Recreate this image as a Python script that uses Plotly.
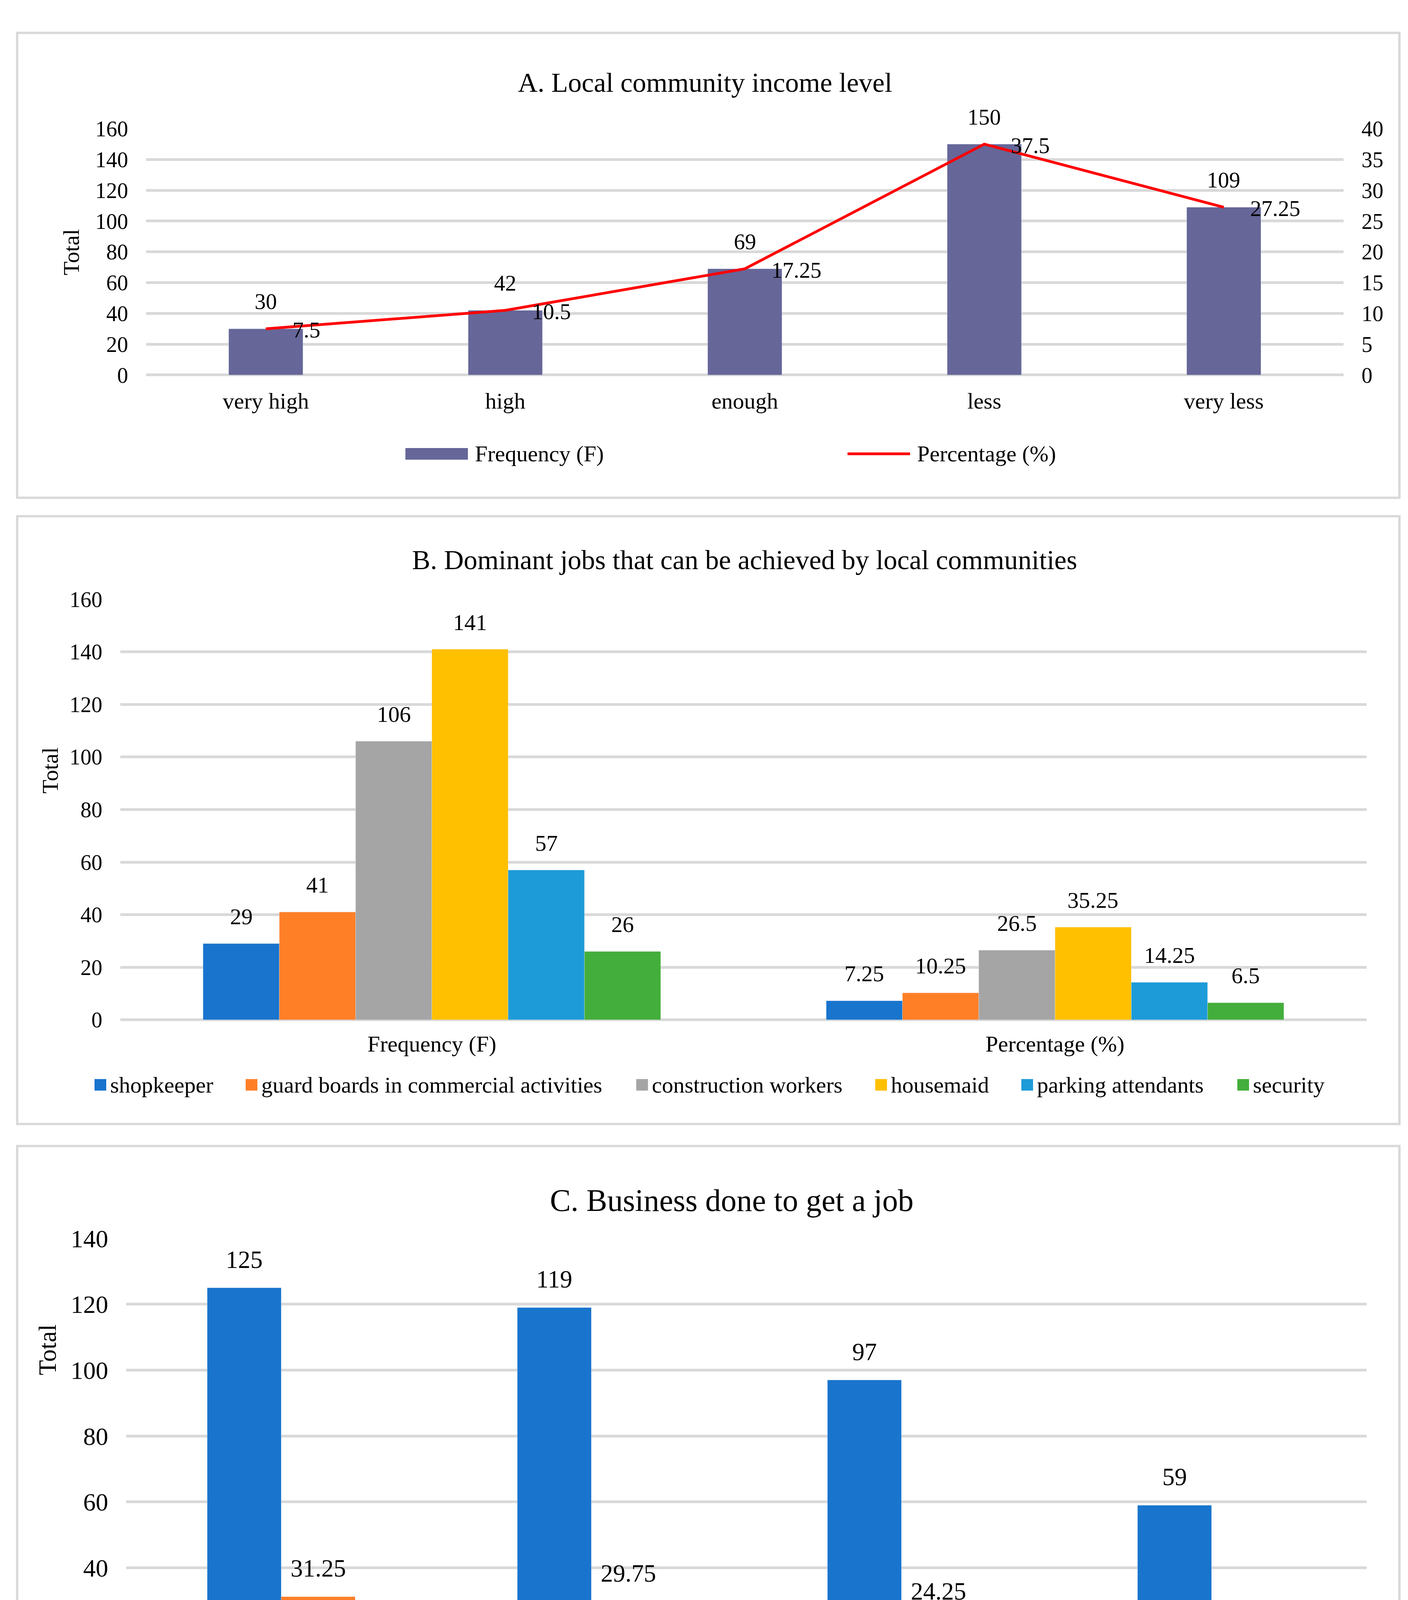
import plotly.graph_objects as go

W, H = 3605, 4709

# ---- data ----
income_levels = ["very high", "high", "enough", "less", "very less"]
income_freq = [30, 42, 69, 150, 109]
income_pct = [7.5, 10.5, 17.25, 37.5, 27.25]

job_groups = ["Frequency (F)", "Percentage (%)"]
jobs = ["shopkeeper", "guard boards in commercial activities", "construction workers",
        "housemaid", "parking attendants", "security"]
job_freq = [29, 41, 106, 141, 57, 26]
job_pct = [7.25, 10.25, 26.5, 35.25, 14.25, 6.5]

business = ["take courses and training", "following Formal Education",
            "improve Skills and Expertise", "etc"]
business_freq = [125, 119, 97, 59]
business_pct = [31.25, 29.75, 24.25, 14.75]

FONT = "Liberation Serif"
GRID = "#D9D9D9"
job_colors = ["#1874CD", "#FF7F27", "#A5A5A5", "#FFC000", "#1D9BD8", "#43AE3B"]
c_colors = ["#1874CD", "#FF7F27"]


def px(x):
    return x / W


def py(y):
    return 1 - y / H


def note(x, y, text, size, xanchor="center", angle=0):
    return dict(x=px(x), y=py(y), xref="paper", yref="paper", showarrow=False, text=text,
                xanchor=xanchor, yanchor="middle", textangle=angle, font=dict(size=size))


fig = go.Figure()

# ---- A. income level ----
fig.add_trace(go.Bar(x=income_levels, y=income_freq, name="Frequency (F)",
                     marker_color="#666699", width=0.31, xaxis="x", yaxis="y"))
fig.add_trace(go.Scatter(x=income_levels, y=income_pct, name="Percentage (%)", mode="lines",
                         line=dict(color="#FF0000", width=7), xaxis="x", yaxis="y4"))

# ---- B. dominant jobs ----
wb = 0.1224
for i, job in enumerate(jobs):
    fig.add_trace(go.Bar(x=job_groups, y=[job_freq[i], job_pct[i]], name=job,
                         marker_color=job_colors[i], width=wb, offset=-3 * wb + i * wb,
                         xaxis="x2", yaxis="y2"))

# ---- C. business done ----
wc = 0.2386
fig.add_trace(go.Bar(x=business, y=business_freq, name="Frequency (F)", marker_color=c_colors[0],
                     width=wc, offset=-wc, xaxis="x3", yaxis="y3"))
fig.add_trace(go.Bar(x=business, y=business_pct, name="Percentage (%)", marker_color=c_colors[1],
                     width=wc, offset=0, xaxis="x3", yaxis="y3"))

ann = []
# data labels A
for c, v in zip(income_levels, income_freq):
    ann.append(dict(x=c, y=v, xref="x", yref="y", text=f"{v:g}", showarrow=False,
                    yanchor="middle", yshift=70, font=dict(size=57)))
for c, v in zip(income_levels, income_pct):
    ann.append(dict(x=c, y=v, xref="x", yref="y4", text=f"{v:g}", showarrow=False,
                    xanchor="left", yanchor="middle", xshift=66, yshift=-3, font=dict(size=57)))
# data labels B
for i in range(len(jobs)):
    for g, v in enumerate([job_freq[i], job_pct[i]]):
        ann.append(dict(x=g - 3 * wb + i * wb + wb / 2, y=v, xref="x2", yref="y2", text=f"{v:g}",
                        showarrow=False, yanchor="middle", yshift=69, font=dict(size=58)))
# data labels C
for k, vals in enumerate([business_freq, business_pct]):
    for g, v in enumerate(vals):
        ann.append(dict(x=g - wc + k * wc + wc / 2, y=v, xref="x3", yref="y3", text=f"{v:g}",
                        showarrow=False, yanchor="middle", yshift=72, font=dict(size=63)))

# titles
ann.append(note(1797, 171, "A. Local community income level", 70))
ann.append(note(1898, 1412, "B. Dominant jobs that can be achieved by local communities", 70))
ann.append(note(1865, 3076, "C. Business done to get a job", 80))
# y-axis titles
for (xx, yy, fs) in [(175, 612, 58), (120, 1959, 58), (114, 3464, 64)]:
    ann.append(note(xx, yy, "Total", fs, angle=-90))

shapes = []
# panel borders
for (y0, y1) in [(42, 1250), (1298, 2878), (2935, 4671)]:
    shapes.append(dict(type="rect", xref="paper", yref="paper", x0=px(36), x1=px(3575),
                       y0=py(y0), y1=py(y1), line=dict(color=GRID, width=6)))

# legend A
shapes.append(dict(type="rect", xref="paper", yref="paper", x0=px(1030), x1=px(1190),
                   y0=py(1121), y1=py(1151), fillcolor="#666699", line=dict(width=0)))
shapes.append(dict(type="line", xref="paper", yref="paper", x0=px(2162), x1=px(2322),
                   y0=py(1136), y1=py(1136), line=dict(color="#FF0000", width=7)))
ann.append(note(1206, 1136, "Frequency (F)", 58, "left"))
ann.append(note(2338, 1136, "Percentage (%)", 58, "left"))

# legend B
b_sq = [234, 621, 1621, 2233, 2607, 3160]
for i, job in enumerate(jobs):
    shapes.append(dict(type="rect", xref="paper", yref="paper", x0=px(b_sq[i]), x1=px(b_sq[i] + 30),
                       y0=py(2761), y1=py(2791), fillcolor=job_colors[i], line=dict(width=0)))
    ann.append(note(b_sq[i] + 38, 2776, job, 58, "left"))

# legend C
for k, (x0, label) in enumerate([(1021, "Frequency (F)"), (2153, "Percentage (%)")]):
    shapes.append(dict(type="rect", xref="paper", yref="paper", x0=px(x0), x1=px(x0 + 32),
                       y0=py(4547), y1=py(4579), fillcolor=c_colors[k], line=dict(width=0)))
    ann.append(note(x0 + 40, 4563, label, 67, "left"))


def yax(dom, rng, dtick, fs, **kw):
    d = dict(domain=dom, range=rng, dtick=dtick, showgrid=True, gridcolor=GRID, gridwidth=7,
             zeroline=True, zerolinecolor=GRID, zerolinewidth=7, showline=False, ticks="",
             tickfont=dict(size=fs), ticklabelstandoff=45, fixedrange=True)
    d.update(kw)
    return d


def xax(dom, rng, fs, standoff):
    return dict(domain=dom, range=rng, type="category", showgrid=False, zeroline=False,
                showline=False, ticks="", tickfont=dict(size=fs), ticklabelstandoff=standoff)


fig.update_layout(
    width=W, height=H,
    margin=dict(l=0, r=0, t=0, b=0),
    paper_bgcolor="white", plot_bgcolor="white",
    font=dict(family=FONT, color="black"),
    showlegend=False,
    barmode="group",
    xaxis=xax([px(366), px(3432)], [-0.5, 4.5], 58, 27) | dict(anchor="y"),
    yaxis=yax([py(931), py(291)], [0, 160], 20, 56, anchor="x"),
    yaxis4=dict(overlaying="y", side="right", anchor="x", range=[0, 40], dtick=5,
                showgrid=False, zeroline=False, showline=False, ticks="",
                tickfont=dict(size=56), ticklabelstandoff=45),
    xaxis2=xax([px(300), px(3491)], [-0.5, 1.5], 58, 22) | dict(anchor="y2"),
    yaxis2=yax([py(2607), py(1514)], [0, 160], 20, 56, anchor="x2"),
    xaxis3=xax([px(315), px(3491)], [-0.5, 3.5], 67, 34) | dict(anchor="y3"),
    yaxis3=yax([py(4374), py(3175)], [0, 140], 20, 64, anchor="x3"),
    annotations=ann,
    shapes=shapes,
)

fig.write_html("out.html")
